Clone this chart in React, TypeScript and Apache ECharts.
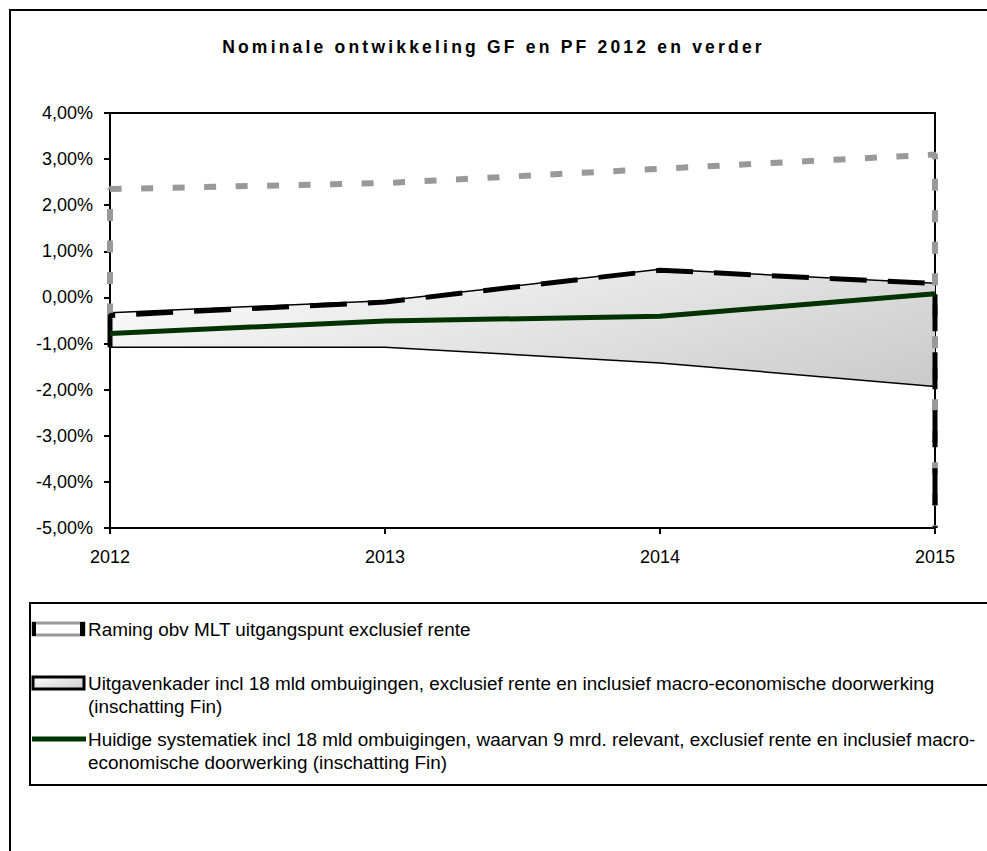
import React, { useEffect, useRef } from "react";
import * as echarts from "echarts";

// ---------- data ----------
const years = [2012, 2013, 2014, 2015];
const raming = [2.35, 2.48, 2.79, 3.1];
const kader = [-0.39, -0.1, 0.59, 0.3];
const bandUpper = [-0.33, -0.07, 0.61, 0.31];
const bandLower = [-1.08, -1.08, -1.42, -1.93];
const huidige = [-0.78, -0.51, -0.41, 0.08];
const yMin = -5;
const yMax = 4;
const yStep = 1;

const titleText = "Nominale ontwikkeling GF en PF 2012 en verder";
const seriesNames = [
  "Raming obv MLT uitgangspunt exclusief rente",
  "Uitgavenkader incl 18 mld ombuigingen, exclusief rente en inclusief macro-economische doorwerking (inschatting Fin)",
  "Huidige systematiek incl 18 mld ombuigingen, waarvan 9 mrd. relevant, exclusief rente en inclusief macro-economische doorwerking (inschatting Fin)",
];
const legendLines = [
  ["Raming obv MLT uitgangspunt exclusief rente"],
  [
    "Uitgavenkader incl 18 mld ombuigingen, exclusief rente en inclusief macro-economische doorwerking",
    "(inschatting Fin)",
  ],
  [
    "Huidige systematiek incl 18 mld ombuigingen, waarvan 9 mrd. relevant, exclusief rente en inclusief macro-",
    "economische doorwerking (inschatting Fin)",
  ],
];

const pairs = (vals: number[]) => years.map((y, i) => [y, vals[i]]);
// area outline: visible from `startVal` at the first year, down to the axis floor at the last year
const outline = (vals: number[], startVal: number) => [
  [years[0], startVal],
  ...pairs(vals),
  [years[years.length - 1], yMin],
];

const FONT = "Arial, 'Liberation Sans', sans-serif";

export default function App() {
  const ref = useRef<HTMLDivElement>(null);

  useEffect(() => {
    const el = ref.current!;
    const chart = echarts.init(el, null, { renderer: "svg" });

    const legendFont = 18.9;
    const legendLH = 23;

    const axisCommon = {
      axisLine: { show: true, onZero: false, lineStyle: { color: "#000", width: 2 } },
      axisTick: { show: true, length: 6, lineStyle: { color: "#000", width: 2 } },
      splitLine: { show: false },
    };

    const option: any = {
      animation: false,
      backgroundColor: "#ffffff",
      textStyle: { fontFamily: FONT, color: "#000" },
      title: {
        text: titleText,
        left: "center",
        top: 38,
        padding: 0,
        textStyle: {
          fontFamily: FONT,
          fontWeight: "bold",
          fontSize: 17.5,
          color: "#000",
        },
      },
      grid: {
        left: 110,
        right: 52,
        top: 113,
        bottom: 323,
        show: true,
        borderColor: "#000",
        borderWidth: 2,
        backgroundColor: "transparent",
        containLabel: false,
        outerBoundsMode: "none",
      },
      xAxis: {
        type: "value",
        min: years[0],
        max: years[years.length - 1],
        interval: 1,
        ...axisCommon,
        axisLabel: {
          margin: 20,
          fontSize: 18,
          fontFamily: FONT,
          color: "#000",
          showMinLabel: true,
          showMaxLabel: true,
          formatter: (v: number) => String(v),
        },
      },
      yAxis: {
        type: "value",
        min: yMin,
        max: yMax,
        interval: yStep,
        ...axisCommon,
        axisLabel: {
          margin: 17,
          fontSize: 18,
          fontFamily: FONT,
          color: "#000",
          showMinLabel: true,
          showMaxLabel: true,
          formatter: (v: number) => v.toFixed(2).replace(".", ",") + "%",
        },
      },
      series: [
        {
          type: "custom",
          name: "band",
          silent: true,
          z: 1,
          data: [[years[0], 0]],
          renderItem: (_params: any, api: any) => {
            const up = years.map((y, i) => api.coord([y, bandUpper[i]]));
            const lo = years.map((y, i) => api.coord([y, bandLower[i]]));
            const all = [...up, ...lo];
            const xs = all.map((p) => p[0]);
            const ys = all.map((p) => p[1]);
            const x0 = Math.min(...xs);
            const x1 = Math.max(...xs);
            const y0 = Math.min(...ys);
            const y1 = Math.max(...ys);
            const fill = new echarts.graphic.LinearGradient(
              x0,
              y0,
              x0 + 0.11 * (x1 - x0),
              y0 + 2.72 * (y1 - y0),
              [
                { offset: 0, color: "#ffffff" },
                { offset: 1, color: "#cbcbcb" },
              ],
              true
            );
            return {
              type: "polygon",
              shape: { points: [...up, ...lo.slice().reverse()] },
              style: { fill, stroke: "none" },
            };
          },
        },
        {
          type: "line",
          name: "bandUpper",
          silent: true,
          z: 2,
          clip: false,
          symbol: "none",
          data: pairs(bandUpper),
          lineStyle: { color: "#000", width: 1.5 },
        },
        {
          type: "line",
          name: "bandLower",
          silent: true,
          z: 2,
          clip: false,
          symbol: "none",
          data: pairs(bandLower),
          lineStyle: { color: "#000", width: 1.5 },
        },
        {
          type: "line",
          name: seriesNames[0],
          z: 3,
          clip: false,
          symbol: "none",
          data: outline(raming, kader[0]),
          lineStyle: { color: "#999999", width: 6, type: [12, 19.5], cap: "butt" },
        },
        {
          type: "line",
          name: seriesNames[1],
          z: 4,
          clip: false,
          symbol: "none",
          data: outline(kader, bandLower[0]),
          lineStyle: { color: "#000000", width: 5, type: [37, 21], cap: "butt" },
        },
        {
          type: "line",
          name: seriesNames[2],
          z: 5,
          clip: false,
          symbol: "none",
          data: pairs(huidige),
          lineStyle: { color: "#003300", width: 5 },
        },
      ],
      graphic: [
        {
          type: "rect",
          silent: true,
          z: 100,
          shape: { x: 10, y: 10, width: 1100, height: 1000 },
          style: { fill: "none", stroke: "#000", lineWidth: 2 },
        },
        {
          type: "rect",
          silent: true,
          z: 100,
          shape: { x: 30, y: 603, width: 1100, height: 182 },
          style: { fill: "none", stroke: "#000", lineWidth: 2 },
        },
        // legend icons
        {
          type: "rect",
          silent: true,
          z: 101,
          shape: { x: 33, y: 623, width: 51, height: 12 },
          style: { fill: "#ffffff", stroke: "#999999", lineWidth: 3 },
        },
        {
          type: "rect",
          silent: true,
          z: 102,
          shape: { x: 32, y: 622, width: 4, height: 14 },
          style: { fill: "#000000" },
        },
        {
          type: "rect",
          silent: true,
          z: 102,
          shape: { x: 80, y: 622, width: 5, height: 14 },
          style: { fill: "#000000" },
        },
        {
          type: "rect",
          silent: true,
          z: 101,
          shape: { x: 33, y: 677, width: 51, height: 12 },
          style: {
            fill: new echarts.graphic.LinearGradient(0, 0, 1, 1, [
              { offset: 0, color: "#ffffff" },
              { offset: 1, color: "#cccccc" },
            ]),
            stroke: "#000000",
            lineWidth: 3,
          },
        },
        {
          type: "line",
          silent: true,
          z: 101,
          shape: { x1: 32, y1: 739, x2: 86, y2: 739 },
          style: { stroke: "#003300", lineWidth: 5 },
        },
        // legend texts
        ...legendLines.map((lines, i) => ({
          type: "text",
          silent: true,
          z: 101,
          x: 88,
          y: [629, 683, 739][i] - legendLH / 2,
          style: {
            text: lines.join("\n"),
            fill: "#000",
            fontSize: legendFont,
            fontFamily: FONT,
            lineHeight: legendLH,
            align: "left",
            verticalAlign: "top",
          },
        })),
      ],
    };

    chart.setOption(option);

    const applySpacing = () => {
      el.querySelectorAll("text").forEach((t) => {
        if (t.textContent === titleText) {
          (t as SVGTextElement).style.letterSpacing = "3.2px";
        }
      });
    };
    applySpacing();
    chart.on("finished", applySpacing);

    return () => {
      chart.dispose();
    };
  }, []);

  return (
    <div
      ref={ref}
      style={{ position: "absolute", left: 0, top: 0, width: 987, height: 851 }}
    />
  );
}
